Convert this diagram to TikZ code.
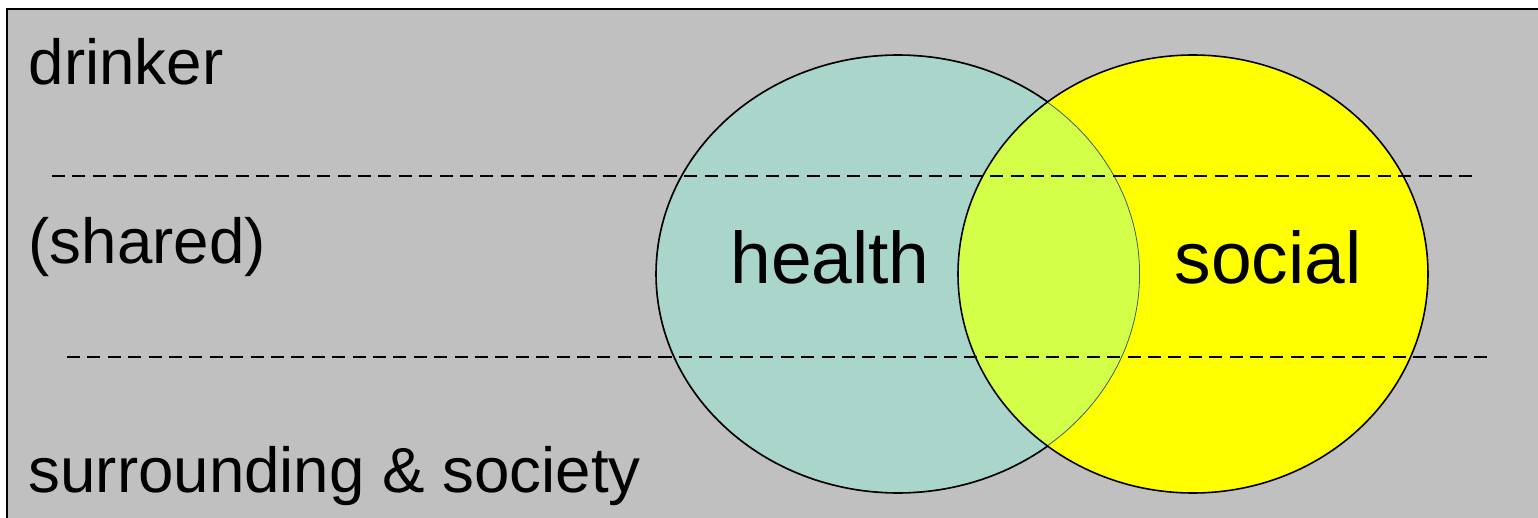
\documentclass[tikz,border=0pt]{standalone}
\usepackage{fontspec}
\setmainfont{Liberation Sans}
\usetikzlibrary{positioning}
\usepackage{xcolor}
\definecolor{panelgray}{HTML}{C0C0C0}
\definecolor{healthteal}{HTML}{A9D5CB}
\definecolor{socialyellow}{HTML}{FFFF00}
\definecolor{sharedlime}{HTML}{D4FF48}
\definecolor{healthedge}{HTML}{3A625C}
\tikzset{%
	level label/.style={
		anchor=base west,
		inner sep=0pt,
		font=\fontsize{18.1}{21}\selectfont
	},
	set label/.style={
		anchor=base,
		inner sep=0pt,
		font=\fontsize{20.8}{24}\selectfont
	},
	divider/.style={
		dash pattern=on 3.7pt off 2.1pt,
		line width=0.7pt
	},
	set ring/.style={
		line width=0.45pt
	},
}
\begin{document}
\begin{tikzpicture}[x=0.01cm, y=-0.01cm]
	\useasboundingbox (0,0) rectangle (1538,518);
	
	% panel
	\draw [fill=panelgray, line width=0.6pt] (7,9) rectangle (1560,540);
	
	% the two sets and their overlap
	\fill [healthteal] (898,274) ellipse [x radius=242, y radius=219];
	\fill [socialyellow] (1193,274) ellipse [x radius=235, y radius=219];
	\begin{scope}
		\clip (898,274) ellipse [x radius=242, y radius=219];
		\fill [sharedlime] (1193,274) ellipse [x radius=235, y radius=219];
		\draw [set ring, healthedge] (898,274) ellipse [x radius=242, y radius=219];
	\end{scope}
	\begin{scope}[even odd rule]
		\clip (1193,274) ellipse [x radius=235, y radius=219] (0,0) rectangle (1538,518);
		\draw [set ring] (898,274) ellipse [x radius=242, y radius=219];
	\end{scope}
	\draw [set ring] (1193,274) ellipse [x radius=235, y radius=219];
	
	% level dividers
	\coordinate (upper-start) at (52,176);
	\coordinate (upper-end) at (1473,176);
	\coordinate (lower-start) at (67,357);
	\coordinate (lower-end) at (1487,357);
	\draw [divider] (upper-start) -- (upper-end);
	\draw [divider] (lower-start) -- (lower-end);
	
	% labels
	\node [level label] (drinker) at (28,84) {drinker};
	\node [level label] (shared) at (28,263) {(shared)};
	\node [level label] (society) at (28,492) {surrounding \& society};
	\node [set label] (health) at (830,283) {health};
	\node [set label] (social) at (1268,283) {social};
	
\end{tikzpicture}
\end{document}
